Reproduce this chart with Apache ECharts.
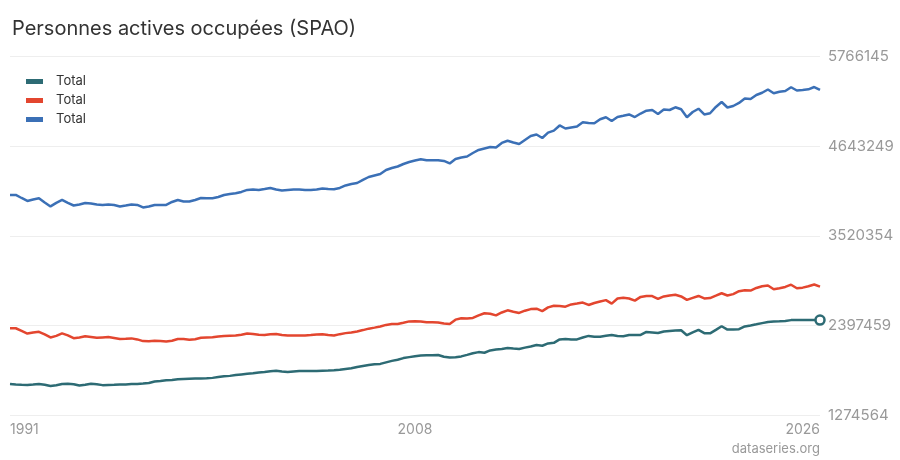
<!DOCTYPE html>
<html>
<head>
<meta charset="utf-8">
<script src="https://cdn.jsdelivr.net/npm/echarts@6/dist/echarts.min.js"></script>
<style>
html,body{margin:0;padding:0;background:#fff;}
#chart{width:900px;height:460px;}
</style>
</head>
<body>
<div id="chart"></div>
<script>
// Quarterly categories 1991-Q1 .. 2026-Q1
var categories = [];
for (var yr = 1991; yr <= 2026; yr++) {
  for (var q = 1; q <= 4; q++) {
    if (yr === 2026 && q > 1) break;
    categories.push(yr + '-Q' + q);
  }
}
var xTickLabels = {0: '1991', 70: '2008', 140: '2026'};
var yTicks = [1274564, 2397459, 3520354, 4643249, 5766145];
var legendLabels = ['Total', 'Total', 'Total'];

var women = [
1664000,1658000,1654000,1652000,1657000,1664000,1654000,1639000,1648000,1664000,
1666000,1661000,1644000,1654000,1667000,1659000,1649000,1651000,1653000,1656000,
1658000,1662000,1664000,1669000,1676000,1694000,1702000,1711000,1714000,1722000,
1727000,1730000,1732000,1732000,1734000,1740000,1750000,1760000,1765000,1775000,
1783000,1791000,1797000,1807000,1815000,1824000,1829000,1820000,1813000,1821000,
1827000,1827000,1827000,1827000,1830000,1832000,1836000,1842000,1852000,1861000,
1877000,1890000,1902000,1911000,1915000,1934000,1953000,1968000,1988000,2000000,
2011000,2019000,2023000,2025000,2027000,2005000,1994000,1999000,2009000,2028000,
2049000,2063000,2055000,2084000,2095000,2103000,2114000,2108000,2103000,2119000,
2134000,2153000,2143000,2172000,2179000,2222000,2228000,2221000,2222000,2246000,
2266000,2256000,2256000,2268000,2278000,2266000,2263000,2278000,2278000,2278000,
2316000,2310000,2303000,2322000,2329000,2334000,2337000,2275000,2310000,2341000,
2300000,2298000,2341000,2387000,2345000,2345000,2350000,2385000,2397000,2411000,
2426000,2441000,2446000,2449000,2453000,2464000,2464000,2465000,2466000,2464000,
2464000
];
var men = [
2362000,2362000,2329000,2295000,2310000,2318000,2285000,2247000,2266000,2297000,
2272000,2237000,2247000,2262000,2253000,2243000,2247000,2251000,2241000,2228000,
2231000,2235000,2222000,2201000,2199000,2206000,2203000,2197000,2206000,2228000,
2228000,2218000,2225000,2243000,2247000,2250000,2260000,2266000,2268000,2270000,
2281000,2297000,2291000,2281000,2278000,2287000,2291000,2278000,2270000,2270000,
2270000,2272000,2276000,2285000,2287000,2278000,2271000,2288000,2301000,2310000,
2322000,2339000,2357000,2370000,2384000,2404000,2416000,2416000,2431000,2448000,
2451000,2448000,2438000,2438000,2435000,2421000,2416000,2470000,2488000,2485000,
2491000,2523000,2550000,2544000,2523000,2560000,2587000,2570000,2554000,2582000,
2602000,2608000,2577000,2624000,2644000,2642000,2633000,2661000,2672000,2684000,
2654000,2679000,2698000,2715000,2671000,2735000,2745000,2735000,2708000,2755000,
2767000,2765000,2731000,2761000,2773000,2782000,2761000,2717000,2742000,2767000,
2736000,2740000,2770000,2801000,2773000,2790000,2826000,2839000,2835000,2867000,
2888000,2898000,2851000,2864000,2880000,2908000,2864000,2871000,2888000,2910000,
2884000
];
var total = [
4033000,4033000,3995000,3958000,3977000,3992000,3939000,3889000,3933000,3970000,
3933000,3901000,3914000,3933000,3926000,3914000,3908000,3914000,3908000,3889000,
3901000,3914000,3908000,3876000,3889000,3908000,3908000,3908000,3945000,3970000,
3951000,3951000,3970000,3995000,3992000,3992000,4008000,4033000,4045000,4054000,
4071000,4096000,4102000,4096000,4108000,4121000,4102000,4089000,4096000,4102000,
4102000,4096000,4096000,4102000,4114000,4108000,4104000,4121000,4152000,4171000,
4183000,4221000,4258000,4277000,4296000,4346000,4371000,4390000,4421000,4446000,
4465000,4480000,4468000,4469000,4468000,4459000,4428000,4484000,4503000,4515000,
4559000,4597000,4616000,4634000,4628000,4685000,4713000,4691000,4672000,4722000,
4772000,4791000,4747000,4814000,4839000,4904000,4866000,4879000,4891000,4944000,
4935000,4931000,4982000,5007000,4960000,5010000,5025000,5042000,5010000,5054000,
5089000,5098000,5048000,5104000,5098000,5132000,5107000,5007000,5073000,5114000,
5042000,5057000,5136000,5198000,5129000,5148000,5186000,5242000,5236000,5286000,
5314000,5355000,5307000,5326000,5336000,5383000,5342000,5349000,5357000,5386000,
5349000
];

var colors = ['#2d6b74', '#e3462f', '#3b70b6'];
var FONT = 'Inter, "Noto Sans", sans-serif';
var lastIdx = categories.length - 1;

function mkSeries(name, data, color, withEnd) {
  return {
    name: name,
    type: 'line',
    data: data,
    color: color,
    smooth: false,
    showSymbol: true,
    showAllSymbol: true,
    symbol: 'circle',
    symbolSize: function (v, p) { return (withEnd && p.dataIndex === lastIdx) ? 9 : 0; },
    itemStyle: {color: '#fff', borderColor: color, borderWidth: 2.5},
    lineStyle: {color: color, width: 2.5},
    emphasis: {disabled: true},
    z: withEnd ? 4 : 3
  };
}

var chart = echarts.init(document.getElementById('chart'), null, {renderer: 'canvas'});
chart.setOption({
  animation: false,
  backgroundColor: '#fff',
  title: [
    {text: 'Personnes actives occupées (SPAO)', left: 7, top: 14,
     textStyle: {fontFamily: FONT, fontSize: 20, fontWeight: 'normal', color: '#333'}},
    {text: 'dataseries.org', right: 75, bottom: -1,
     textStyle: {fontFamily: FONT, fontSize: 13, fontWeight: 'normal', color: '#999'}}
  ],
  legend: {
    orient: 'vertical', left: 21, top: 70,
    itemWidth: 15, itemHeight: 3, itemGap: 6,
    icon: 'rect',
    data: ['s0', 's1', 's2'].map(function (n, i) { return {name: n, itemStyle: {color: colors[i]}}; }),
    formatter: function (n) { return legendLabels[parseInt(n.slice(1), 10)]; },
    textStyle: {fontFamily: FONT, fontSize: 13, color: '#333', padding: [0, 0, 0, 9], lineHeight: 13}
  },
  grid: {left: 10, right: 80, top: 56.7, bottom: 45, containLabel: false},
  xAxis: {
    type: 'category',
    data: categories,
    boundaryGap: false,
    axisLine: {show: false},
    axisTick: {show: false},
    splitLine: {show: false},
    axisLabel: {
      interval: function (i) { return xTickLabels.hasOwnProperty(i); },
      formatter: function (v, i) { return xTickLabels[i] || ''; },
      alignMinLabel: 'left', alignMaxLabel: 'right',
      fontFamily: FONT, fontSize: 14, color: '#999', margin: 8
    }
  },
  yAxis: {
    type: 'value',
    position: 'right',
    min: yTicks[0], max: yTicks[yTicks.length - 1],
    axisLine: {show: false},
    axisTick: {show: false, customValues: yTicks},
    axisLabel: {customValues: yTicks, formatter: function (v) { return String(v); },
      fontFamily: FONT, fontSize: 15, color: '#999', margin: 8},
    splitLine: {show: true, lineStyle: {color: '#eeeeee', width: 1}}
  },
  series: [
    mkSeries('s0', women, colors[0], true),
    mkSeries('s1', men, colors[1], false),
    mkSeries('s2', total, colors[2], false)
  ]
});
</script>
</body>
</html>
